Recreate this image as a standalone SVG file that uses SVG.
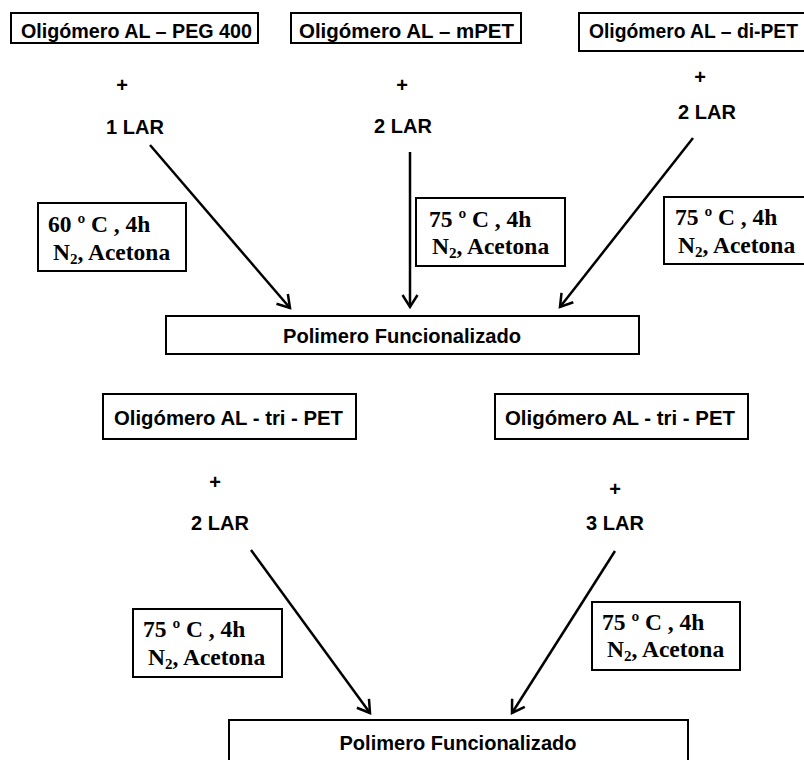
<svg xmlns="http://www.w3.org/2000/svg" width="804" height="760" viewBox="0 0 804 760">
<defs>
<style>
.box{fill:#fff;stroke:#000;stroke-width:2}
.s{font-family:"Liberation Sans",Arial,sans-serif;font-weight:bold;font-size:20px;fill:#000}
.m{text-anchor:middle}
.t{font-family:"Liberation Serif","Times New Roman",serif;font-weight:bold;font-size:23.5px;fill:#000}
.sub{font-size:15px}
.arr{stroke:#000;stroke-width:2.5;fill:none}
</style>
<marker id="ah" markerWidth="18" markerHeight="18" refX="14" refY="9" orient="auto" markerUnits="userSpaceOnUse">
<path d="M2,1.5 L14,9 L2,16.5" fill="none" stroke="#000" stroke-width="2.5"/>
</marker>
</defs>
<rect width="804" height="760" fill="#fff"/>

<g id="n-peg400">
<rect class="box" x="11" y="13" width="247" height="30"/>
<text class="s" x="21" y="38" textLength="231" lengthAdjust="spacingAndGlyphs">Oligómero AL – PEG 400</text>
</g>
<g id="n-mpet">
<rect class="box" x="291" y="13" width="230" height="30"/>
<text class="s" x="299" y="38" textLength="215" lengthAdjust="spacingAndGlyphs">Oligómero AL – mPET</text>
</g>
<g id="n-dipet">
<rect class="box" x="579" y="13" width="232" height="38"/>
<text class="s" x="589" y="38" textLength="209" lengthAdjust="spacingAndGlyphs">Oligómero AL – di-PET</text>
</g>

<g id="r-1">
<text class="s m" x="122" y="92">+</text>
<text class="s m" x="135" y="134">1 LAR</text>
</g>
<g id="r-2">
<text class="s m" x="402" y="92">+</text>
<text class="s m" x="403" y="133">2 LAR</text>
</g>
<g id="r-3">
<text class="s m" x="700" y="84">+</text>
<text class="s m" x="707" y="119">2 LAR</text>
</g>

<g id="c-1">
<rect class="box" x="38" y="203" width="148" height="68"/>
<text class="t" x="48" y="232">60 º C , 4h</text>
<text class="t" x="53" y="260">N<tspan class="sub" dy="4">2</tspan><tspan dy="-4">, Acetona</tspan></text>
</g>
<g id="c-2">
<rect class="box" x="416" y="198" width="149" height="68"/>
<text class="t" x="429" y="227">75 º C , 4h</text>
<text class="t" x="432" y="254">N<tspan class="sub" dy="4">2</tspan><tspan dy="-4">, Acetona</tspan></text>
</g>
<g id="c-3">
<rect class="box" x="664" y="197" width="146" height="67"/>
<text class="t" x="675" y="225">75 º C , 4h</text>
<text class="t" x="678" y="253">N<tspan class="sub" dy="4">2</tspan><tspan dy="-4">, Acetona</tspan></text>
</g>

<g id="n-poly1">
<rect class="box" x="166" y="316" width="473" height="38"/>
<text class="s m" x="402" y="343" textLength="238" lengthAdjust="spacingAndGlyphs">Polimero Funcionalizado</text>
</g>

<g id="n-tripet1">
<rect class="box" x="103" y="394" width="253" height="45"/>
<text class="s" x="114" y="425" textLength="229" lengthAdjust="spacingAndGlyphs">Oligómero  AL - tri - PET</text>
</g>
<g id="n-tripet2">
<rect class="box" x="495" y="394" width="253" height="45"/>
<text class="s" x="505" y="425" textLength="230" lengthAdjust="spacingAndGlyphs">Oligómero  AL - tri - PET</text>
</g>

<g id="r-4">
<text class="s m" x="215" y="489">+</text>
<text class="s m" x="220" y="530">2 LAR</text>
</g>
<g id="r-5">
<text class="s m" x="615" y="496">+</text>
<text class="s m" x="615" y="530">3 LAR</text>
</g>

<g id="c-4">
<rect class="box" x="133" y="609" width="149" height="68"/>
<text class="t" x="143" y="637">75 º C , 4h</text>
<text class="t" x="148" y="665">N<tspan class="sub" dy="4">2</tspan><tspan dy="-4">, Acetona</tspan></text>
</g>
<g id="c-5">
<rect class="box" x="592" y="602" width="148" height="68"/>
<text class="t" x="602" y="630">75 º C , 4h</text>
<text class="t" x="607" y="657">N<tspan class="sub" dy="4">2</tspan><tspan dy="-4">, Acetona</tspan></text>
</g>

<g id="n-poly2">
<rect class="box" x="229" y="720" width="459" height="50"/>
<text class="s m" x="458" y="750" textLength="237" lengthAdjust="spacingAndGlyphs">Polimero Funcionalizado</text>
</g>

<g id="connectors">
<line class="arr" x1="150" y1="145" x2="290" y2="308" marker-end="url(#ah)"/>
<line class="arr" x1="410" y1="152" x2="410" y2="307" marker-end="url(#ah)"/>
<line class="arr" x1="693" y1="138" x2="560" y2="307" marker-end="url(#ah)"/>
<line class="arr" x1="251" y1="550" x2="370" y2="713" marker-end="url(#ah)"/>
<line class="arr" x1="615" y1="551" x2="512" y2="713" marker-end="url(#ah)"/>
</g>
</svg>
